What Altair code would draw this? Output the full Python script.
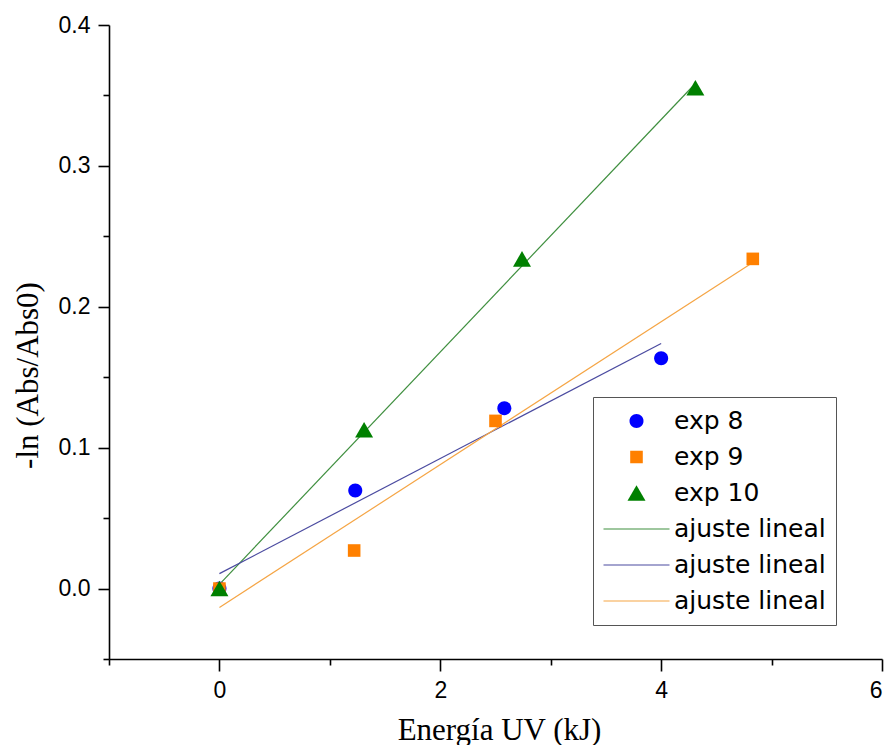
import altair as alt
import pandas as pd

# ---- data ----
exp_names = ["exp 8", "exp 9", "exp 10"]
exp8_x = [0.0, 1.23, 2.58, 4.0]
exp8_y = [0.0, 0.0696, 0.128, 0.1634]
exp9_x = [0.0, 1.22, 2.50, 4.83]
exp9_y = [0.0, 0.027, 0.119, 0.234]
exp10_x = [0.0, 1.31, 2.74, 4.31]
exp10_y = [0.0, 0.1127, 0.234, 0.3555]

fit_names = ["ajuste lineal 10", "ajuste lineal 8", "ajuste lineal 9"]
fit10_x = [0.0, 4.28]
fit10_y = [0.003, 0.356]
fit8_x = [0.0, 4.0]
fit8_y = [0.0106, 0.174]
fit9_x = [0.0, 4.83]
fit9_y = [-0.0134, 0.2315]

x_ticks = [-1, 0, 1, 2, 3, 4, 5, 6]
y_ticks = [-0.05, 0.0, 0.05, 0.1, 0.15, 0.2, 0.25, 0.3, 0.35, 0.4]

domain_all = exp_names + fit_names
exp_colors = ["#0000ff", "#ff8000", "#008000"]
fit_colors = ["#3f8f3f", "#4b4ba0", "#f5a545"]
colors = exp_colors + fit_colors
line_path = "M-6.6,-0.11H6.6V0.11H-6.6Z"
shapes = [
    "M-1.4,0A1.4,1.4,0,1,0,1.4,0A1.4,1.4,0,1,0,-1.4,0Z",
    "M-1.26,-1.26H1.26V1.26H-1.26Z",
    "M0,-1.56L1.8,1.56L-1.8,1.56Z",
    line_path, line_path, line_path,
]

rows = []
for name, xs_, ys_ in zip(exp_names, [exp8_x, exp9_x, exp10_x], [exp8_y, exp9_y, exp10_y]):
    for xv, yv in zip(xs_, ys_):
        rows.append({"serie": name, "x": xv, "y": yv})
pts = pd.DataFrame(rows)

x_axis = alt.Axis(
    values=x_ticks, format="d",
    labelExpr="datum.value % 2 === 0 ? datum.label : ''",
    tickSize={"condition": {"test": "datum.value % 2 !== 0", "value": 6}, "value": 12},
    domainColor="black", domainWidth=1.6, tickColor="black", tickWidth=1.6,
    labelFont="Liberation Sans", labelFontSize=23, labelColor="black", labelPadding=8,
    grid=False, title="Energía UV (kJ)", titleFont="Liberation Serif", titleFontSize=31,
    titleFontWeight="normal", titleColor="black", titleX=390, titleY=80,
    titleBaseline="alphabetic", titleAlign="center",
)
y_axis = alt.Axis(
    values=y_ticks, format=".1f",
    labelExpr="abs(round(datum.value*20)) % 2 === 1 ? '' : datum.label",
    tickSize={"condition": {"test": "abs(round(datum.value*20)) % 2 === 1", "value": 6}, "value": 11},
    domainColor="black", domainWidth=1.6, tickColor="black", tickWidth=1.6,
    labelFont="Liberation Sans", labelFontSize=23, labelColor="black", labelPadding=8,
    grid=False, title="-ln (Abs/Abs0)", titleFont="Liberation Serif", titleFontSize=31,
    titleFontWeight="normal", titleColor="black", titleX=-81, titleY=350,
    titleBaseline="middle", titleAlign="center", titleAngle=270,
)

xs = alt.Scale(domain=[-1, 6], nice=False, zero=False)
ys = alt.Scale(domain=[-0.05, 0.4], nice=False, zero=False)
cscale = alt.Scale(domain=domain_all, range=colors)
sscale = alt.Scale(domain=domain_all, range=shapes)

legend = alt.Legend(
    title=None, orient="none", legendX=484, legendY=372,
    symbolSize=100, symbolOffset=21, labelOffset=25, symbolStrokeWidth=0,
    symbolOpacity=1, clipHeight=28, rowPadding=8, padding=10,
    labelFont="DejaVu Sans", labelFontSize=25, labelColor="black",
    strokeColor="#555555", fillColor="white",
    labelExpr="indexof(datum.label, 'ajuste') >= 0 ? 'ajuste lineal' : datum.label",
)

layers = []
for name, fx, fy, col in zip(fit_names, [fit10_x, fit8_x, fit9_x], [fit10_y, fit8_y, fit9_y], fit_colors):
    df = pd.DataFrame({"x": fx, "y": fy})
    layers.append(
        alt.Chart(df).mark_line(strokeWidth=1.2, color=col).encode(
            x=alt.X("x:Q", scale=xs, axis=x_axis),
            y=alt.Y("y:Q", scale=ys, axis=y_axis),
        )
    )

points = alt.Chart(pts).mark_point(filled=True, size=100, opacity=1, strokeWidth=0).encode(
    x=alt.X("x:Q", scale=xs, axis=x_axis),
    y=alt.Y("y:Q", scale=ys, axis=y_axis),
    color=alt.Color("serie:N", scale=cscale, legend=legend),
    shape=alt.Shape("serie:N", scale=sscale, legend=legend),
)
layers.append(points)

chart = alt.layer(*layers).properties(
    width=773, height=634,
    padding={"left": 101, "top": 17, "right": 6, "bottom": 86},
    autosize=alt.AutoSizeParams(type="none"),
    background="white",
).configure_view(stroke=None)

chart.save("out.html", embed_options={"renderer": "svg", "actions": False})
